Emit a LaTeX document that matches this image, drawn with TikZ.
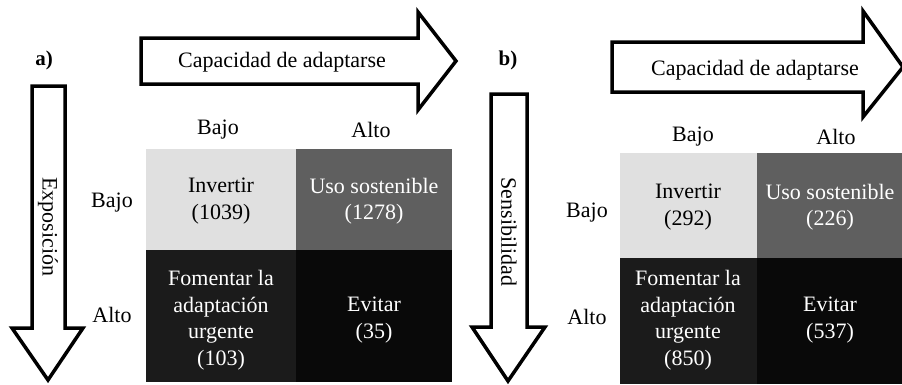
\documentclass[tikz,border=0pt]{standalone}
\usepackage{fontspec}
\setmainfont{Liberation Serif}
\begin{document}
\begin{tikzpicture}[x=1pt,y=-1pt,
  blockarrow/.style={draw=black,line width=3.5pt,fill=white,line join=miter},
  lbl/.style={font=\fontsize{22}{26}\selectfont,inner sep=0pt},
  panellbl/.style={font=\fontsize{21}{26}\selectfont\bfseries,inner sep=0pt},
  cell/.style={font=\fontsize{22}{26.5}\selectfont,align=center,inner sep=0pt},
  light/.style={fill=lightcell,draw=none},
  mid/.style={fill=midcell,draw=none},
  dark/.style={fill=darkcell,draw=none},
  black/.style={fill=blackcell,draw=none}]
\definecolor{lightcell}{HTML}{E0E0E0}
\definecolor{midcell}{HTML}{5F5F5F}
\definecolor{darkcell}{HTML}{1B1B1B}
\definecolor{blackcell}{HTML}{090909}
\useasboundingbox (0,0) rectangle (902,384);
\clip (0,0) rectangle (902,384);
% ---------- panel a ----------
\node[panellbl] (la) at (44,60) {a)};
\draw[blockarrow] (141,38) -- (418,38) -- (418,12) -- (456,61) -- (418,110) -- (418,84) -- (141,84) -- cycle;
\node[lbl] (capa) at (282,62) {Capacidad de adaptarse};
\draw[blockarrow] (32,86) -- (65,86) -- (65,328) -- (83,328) -- (48,380) -- (12,328) -- (32,328) -- cycle;
\node[lbl,rotate=-90] (expo) at (48,227) {Exposición};
\node[lbl] (cba) at (218,130) {Bajo};
\node[lbl] (caa) at (371,130) {Alto};
\node[lbl] (rba) at (112,203) {Bajo};
\node[lbl] (raa) at (112,315) {Alto};
\fill[light] (146,149) rectangle (296,250);
\fill[mid] (296,149) rectangle (452,250);
\fill[dark] (146,250) rectangle (296,382);
\fill[black] (296,250) rectangle (452,382);
\node[cell] (a11) at (221,201) {Invertir\\(1039)};
\node[cell,text=white] (a12) at (374,201) {Uso sostenible\\(1278)};
\node[cell,text=white] (a21) at (221,320) {Fomentar la\\adaptación\\urgente\\(103)};
\node[cell,text=white] (a22) at (374,320) {Evitar\\(35)};
% ---------- panel b ----------
\node[panellbl] (lb) at (508,60) {b)};
\draw[blockarrow] (612,42) -- (863,42) -- (863,11) -- (903,67) -- (863,117) -- (863,92) -- (612,92) -- cycle;
\node[lbl] (capb) at (755,70) {Capacidad de adaptarse};
\draw[blockarrow] (491,94) -- (527,94) -- (527,327) -- (545,327) -- (508,381) -- (472,327) -- (491,327) -- cycle;
\node[lbl,rotate=-90] (sens) at (509,232) {Sensibilidad};
\node[lbl] (cbb) at (693,137) {Bajo};
\node[lbl] (cab) at (836,137) {Alto};
\node[lbl] (rbb) at (587,213) {Bajo};
\node[lbl] (rab) at (587,317) {Alto};
\fill[light] (620,153) rectangle (757,258);
\fill[mid] (757,153) rectangle (902,258);
\fill[dark] (620,258) rectangle (757,384);
\fill[black] (757,258) rectangle (902,384);
\node[cell] (b11) at (688,207) {Invertir\\(292)};
\node[cell,text=white] (b12) at (830,207) {Uso sostenible\\(226)};
\node[cell,text=white] (b21) at (688,320) {Fomentar la\\adaptación\\urgente\\(850)};
\node[cell,text=white] (b22) at (830,320) {Evitar\\(537)};
\end{tikzpicture}
\end{document}
